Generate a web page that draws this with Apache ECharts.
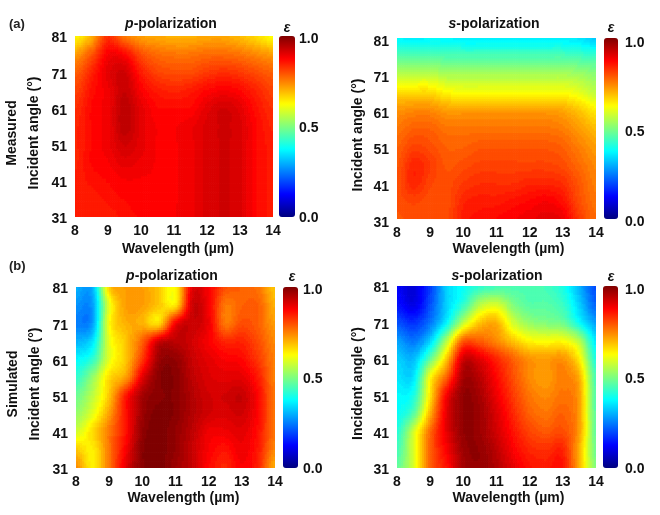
<!DOCTYPE html>
<html><head><meta charset="utf-8">
<style>html,body{margin:0;padding:0;background:#fff}#c{width:660px;height:515px}</style>
<script src="https://cdn.jsdelivr.net/npm/echarts@6/dist/echarts.min.js"></script>
</head><body><div id="c"></div>
<script>
const wavelengths = [8,8.5,9,9.5,10,10.5,11,11.5,12,12.5,13,13.5,14];
const angles = [81,76,71,66,61,56,51,46,41,36,31];
const xTicks = {min:8,max:14,interval:1};
const yTicks = {min:31,max:81,interval:10};
const palette = ['#00007f','#0000ff','#007fff','#00ffff','#7fff7f','#ffff00','#ff7f00','#ff0000','#7f0000'];

const measuredP = [
[.63,.70,.83,.76,.72,.71,.70,.70,.71,.71,.69,.66,.62],
[.72,.79,.88,.87,.80,.77,.76,.76,.77,.77,.76,.74,.72],
[.78,.84,.90,.92,.85,.81,.80,.80,.82,.83,.82,.80,.78],
[.81,.86,.89,.93,.88,.85,.84,.85,.87,.88,.87,.84,.81],
[.83,.87,.89,.94,.90,.87,.87,.87,.90,.92,.90,.86,.83],
[.84,.87,.89,.94,.90,.88,.88,.89,.91,.92,.91,.87,.84],
[.84,.87,.89,.92,.90,.88,.88,.89,.91,.92,.91,.87,.85],
[.84,.87,.88,.90,.89,.88,.88,.89,.91,.92,.91,.87,.85],
[.85,.86,.87,.88,.88,.88,.88,.89,.91,.92,.91,.87,.85],
[.85,.85,.86,.87,.88,.88,.88,.89,.91,.92,.91,.87,.85],
[.85,.85,.85,.86,.87,.87,.88,.89,.91,.92,.91,.87,.85]];
const measuredS = [
[.37,.36,.37,.37,.36,.36,.36,.36,.36,.36,.36,.35,.32],
[.46,.46,.46,.45,.45,.45,.45,.45,.45,.45,.45,.44,.43],
[.55,.56,.56,.54,.54,.54,.54,.54,.54,.54,.54,.53,.51],
[.66,.66,.66,.63,.62,.62,.62,.62,.62,.62,.62,.60,.56],
[.73,.74,.74,.72,.72,.72,.72,.72,.72,.72,.71,.68,.64],
[.76,.78,.78,.76,.76,.76,.76,.76,.76,.76,.75,.72,.69],
[.78,.81,.80,.78,.78,.79,.79,.79,.79,.79,.78,.75,.72],
[.79,.84,.82,.79,.80,.81,.81,.81,.81,.81,.80,.77,.74],
[.80,.84,.81,.80,.82,.83,.83,.83,.84,.84,.83,.79,.75],
[.80,.81,.80,.80,.84,.85,.85,.86,.87,.88,.86,.80,.76],
[.79,.80,.80,.80,.85,.86,.87,.88,.89,.90,.89,.82,.77]];
const simulatedP = [
[.30,.30,.67,.72,.72,.68,.63,.90,.88,.80,.78,.76,.68],
[.27,.28,.60,.72,.72,.68,.65,.92,.88,.76,.78,.78,.70],
[.25,.28,.62,.70,.70,.66,.88,.93,.89,.76,.80,.78,.72],
[.30,.35,.60,.68,.78,.92,.94,.92,.88,.84,.84,.80,.74],
[.37,.42,.60,.68,.82,.97,.98,.93,.90,.88,.87,.82,.75],
[.42,.52,.66,.72,.90,.99,.99,.94,.91,.90,.90,.85,.75],
[.48,.56,.68,.85,.96,.99,.99,.95,.92,.92,.93,.87,.76],
[.52,.60,.72,.86,.97,1,.99,.95,.92,.91,.92,.87,.76],
[.58,.66,.76,.86,.98,1,.98,.94,.89,.89,.90,.86,.76],
[.68,.64,.76,.88,.99,1,.98,.93,.88,.86,.89,.85,.74],
[.74,.64,.76,.90,.99,1,.97,.93,.87,.84,.88,.84,.70]];
const simulatedS = [
[.12,.09,.18,.33,.38,.42,.44,.45,.45,.44,.40,.30,.20],
[.14,.10,.20,.33,.42,.55,.58,.50,.46,.46,.43,.33,.22],
[.20,.17,.24,.37,.56,.68,.70,.58,.52,.50,.48,.38,.28],
[.28,.24,.33,.55,.78,.78,.74,.68,.63,.62,.62,.55,.35],
[.33,.31,.47,.68,.92,.90,.84,.78,.73,.72,.73,.64,.40],
[.35,.35,.62,.78,.96,.94,.87,.80,.74,.72,.75,.70,.44],
[.37,.40,.65,.88,.98,.96,.89,.82,.76,.74,.76,.72,.45],
[.38,.46,.70,.90,.98,.97,.91,.84,.78,.76,.78,.72,.46],
[.41,.58,.77,.90,.98,.97,.92,.86,.81,.79,.80,.72,.47],
[.44,.59,.78,.88,.97,.98,.94,.88,.84,.83,.84,.70,.48],
[.47,.59,.78,.86,.96,.98,.95,.90,.86,.85,.86,.70,.50]];

const font = '"Liberation Sans", Arial, sans-serif';
const LEVELS = 80, SUB = 8;
const bandColor = {};
function colorOf(v){
  const l = Math.round(Math.max(0,Math.min(1,v))*LEVELS);
  return bandColor[l] || (bandColor[l] = echarts.color.lerp(l/LEVELS, palette));
}
function cr(a,b,c,d,t){return b+.5*t*(c-a+t*(2*a-5*b+4*c-d+t*(3*(b-c)+d-a)));}
function sample(M,r,c){
  const R=M.length-1,C=M[0].length-1, r0=Math.floor(r), c0=Math.floor(c), tr=r-r0, tc=c-c0;
  const rows=[];
  for(let k=-1;k<=2;k++){
    const row=M[Math.max(0,Math.min(R,r0+k))];
    const g=i=>row[Math.max(0,Math.min(C,c0+i))];
    rows.push(cr(g(-1),g(0),g(1),g(2),tc));
  }
  return cr(rows[0],rows[1],rows[2],rows[3],tr);
}
const panels = [
 {M:measuredP,g:[75,36,198,181],bar:[279,16],scale:[39,179],barMargin:4,name:'p',group:'Measured',tag:'(a)',tagY:25,titleY:24,titleX:171,epsX:287,epsY:28,lblOff:2.5,xGap:25,xShift:4,yGap:29.5},
 {M:measuredS,g:[397,38,199,181],bar:[604,14],scale:[43,179],barMargin:7,name:'s',titleY:24,titleX:494,epsX:611,epsY:28,lblOff:4,xGap:23,xShift:12,yGap:28},
 {M:simulatedP,g:[76,287,199,181],bar:[283,15],scale:[290,179],barMargin:5,name:'p',group:'Simulated',tag:'(b)',tagY:267,titleY:276,titleX:172,epsX:292,epsY:277,lblOff:2.5,xGap:23,xShift:8,yGap:29.5},
 {M:simulatedS,g:[397,286,199,182],bar:[603,15],scale:[290,179],barMargin:7,name:'s',titleY:276,titleX:497,epsX:611,epsY:277,lblOff:2.5,xGap:23,xShift:12,yGap:28}
];
const angleLabel = 'Incident angle (°)';
const opt = {animation:false,backgroundColor:'#fff',grid:[],xAxis:[],yAxis:[],series:[],visualMap:[],title:[]};
const tickStyle = {color:'#111',fontFamily:font,fontWeight:'bold',fontSize:14};
panels.forEach((p,i)=>{
  const [l,t,w,h]=p.g;
  opt.grid.push({left:l,top:t,width:w,height:h});
  opt.xAxis.push({gridIndex:2*i,type:'value',...xTicks,splitLine:{show:false},axisLine:{show:false},axisTick:{show:false},
    axisLabel:{...tickStyle,margin:7},name:'Wavelength (µm)',nameLocation:'middle',nameGap:p.xGap,
    nameTextStyle:{...tickStyle,padding:[0,0,0,2*p.xShift]}});
  opt.yAxis.push({gridIndex:2*i,type:'value',...yTicks,splitLine:{show:false},axisLine:{show:false},axisTick:{show:false},
    axisLabel:{margin:8,formatter:'{t|{value}}',rich:{t:{...tickStyle,padding:[2*p.lblOff,0,0,0]}}},
    name:p.group?p.group+'\n'+angleLabel:angleLabel,nameLocation:'middle',nameGap:p.yGap,
    nameTextStyle:{...tickStyle,lineHeight:22,padding:[0,13,0,0]}});
  const [bx,bw]=p.bar;
  opt.grid.push({left:bx,top:p.scale[0],width:bw,height:p.scale[1]});
  opt.xAxis.push({gridIndex:2*i+1,type:'value',show:false,min:0,max:1});
  opt.yAxis.push({gridIndex:2*i+1,type:'value',position:'right',min:0,max:1,interval:.5,splitLine:{show:false},
    axisLine:{show:false},axisTick:{show:false},axisLabel:{...tickStyle,margin:p.barMargin,formatter:v=>v.toFixed(1)}});
  opt.visualMap.push({type:'continuous',seriesIndex:i,dimension:2,min:0,max:1,left:bx,top:t,itemWidth:bw,itemHeight:h,
    calculable:false,hoverLink:false,inRange:{color:palette},text:null,padding:0});
  const data=[];
  p.M.forEach((row,r)=>row.forEach((v,c)=>data.push([wavelengths[c],angles[r],v,r,c])));
  opt.series.push({type:'custom',xAxisIndex:2*i,yAxisIndex:2*i,coordinateSystem:'cartesian2d',clip:true,silent:true,
    encode:{x:0,y:1},data,progressive:0,
    renderItem:(params,api)=>{
      const x=api.value(0),y=api.value(1),r=api.value(3),c=api.value(4),children=[];
      const dx=.5/SUB,dy=5/SUB;
      for(let a=0;a<SUB;a++)for(let b=0;b<SUB;b++){
        const fx=(a+.5)/SUB-.5,fy=(b+.5)/SUB-.5;
        const p0=api.coord([x+fx*.5-dx/2,y-fy*5+dy/2]),p1=api.coord([x+fx*.5+dx/2,y-fy*5-dy/2]);
        children.push({type:'rect',shape:{x:p0[0],y:p0[1],width:p1[0]-p0[0]+.7,height:p1[1]-p0[1]+.7},
          style:{fill:colorOf(sample(p.M,Math.max(0,Math.min(p.M.length-1,r+fy)),Math.max(0,Math.min(p.M[0].length-1,c+fx))))}});
      }
      return {type:'group',children};
    }});
  opt.title.push({text:'{i|'+p.name+'}{b|-polarization}',left:p.titleX,top:p.titleY-7,textAlign:'center',padding:0,
    textStyle:{rich:{i:{fontFamily:font,fontSize:14,fontWeight:'bold',fontStyle:'italic',color:'#111'},
      b:{fontFamily:font,fontSize:14,fontWeight:'bold',color:'#111'}}}});
  opt.title.push({text:'ε',left:p.epsX,top:p.epsY-7,textAlign:'center',padding:0,
    textStyle:{fontFamily:font,fontSize:14,fontWeight:'bold',fontStyle:'italic',color:'#111'}});
  if(p.tag) opt.title.push({text:p.tag,left:9,top:p.tagY-7,padding:0,
    textStyle:{fontFamily:font,fontSize:13,fontWeight:'bold',color:'#222'}});
});
echarts.init(document.getElementById('c'),null,{renderer:'canvas'}).setOption(opt);
</script></body></html>
